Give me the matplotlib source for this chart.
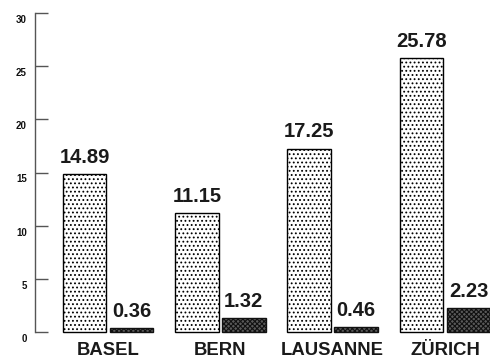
import matplotlib
matplotlib.use("Agg")
import matplotlib.pyplot as plt
from matplotlib.transforms import ScaledTranslation
import numpy as np

cities = ["BASEL", "BERN", "LAUSANNE", "ZÜRICH"]
series_a = [14.89, 11.15, 17.25, 25.78]
series_b = [0.36, 1.32, 0.46, 2.23]
y_ticks = [0, 5, 10, 15, 20, 25, 30]

plt.rcParams["font.family"] = ["Liberation Sans", "DejaVu Sans"]
plt.rcParams["hatch.linewidth"] = 0.8

W, H, DPI = 490, 359, 100
fig = plt.figure(figsize=(W / DPI, H / DPI), dpi=DPI)
# axes box in pixel terms: spine at x=35, y from 13 (top) to 332 (bottom)
ax = fig.add_axes([35 / W, (H - 332) / H, (W - 35) / W, (332 - 13) / H])

x = np.arange(len(cities))
bw = 0.387
off = 0.209

bars_a = ax.bar(x - off, series_a, bw, facecolor="white", edgecolor="black",
                hatch="....", linewidth=1.0, clip_on=False)
bars_b = ax.bar(x + off, series_b, bw, facecolor="#5a5a5a", edgecolor="#111111",
                hatch="xxxxxxx", linewidth=1.0, clip_on=False)

for bars, vals in ((bars_a, series_a), (bars_b, series_b)):
    for b, v in zip(bars, vals):
        ax.annotate(f"{v:.2f}", (b.get_x() + b.get_width() / 2, v),
                    xytext=(0, 8), textcoords="offset points",
                    ha="center", va="baseline", fontsize=14.5,
                    fontweight="bold", color="#1a1a1a")

ax.set_xlim(-0.65, 3.40)
ax.set_ylim(0, 30)

for s in ("top", "right", "bottom"):
    ax.spines[s].set_visible(False)
ax.spines["left"].set_color("#555555")
ax.spines["left"].set_linewidth(1.0)

ax.set_yticks(y_ticks)
ax.tick_params(axis="y", direction="in", length=9, width=1.0, color="#555555",
               labelsize=7, pad=6, labelcolor="#111111")
for lab in ax.get_yticklabels():
    lab.set_verticalalignment("top")
    lab.set_fontweight("semibold")
    lab.set_transform(lab.get_transform() + ScaledTranslation(0, -2 / DPI, fig.dpi_scale_trans))

ax.set_xticks(x)
ax.set_xticklabels(cities, fontsize=13.3, fontweight="bold", color="#1a1a1a")
ax.tick_params(axis="x", length=0, pad=16.5)
for lab in ax.get_xticklabels():
    lab.set_verticalalignment("baseline")

fig.savefig("out.png", dpi=DPI)
